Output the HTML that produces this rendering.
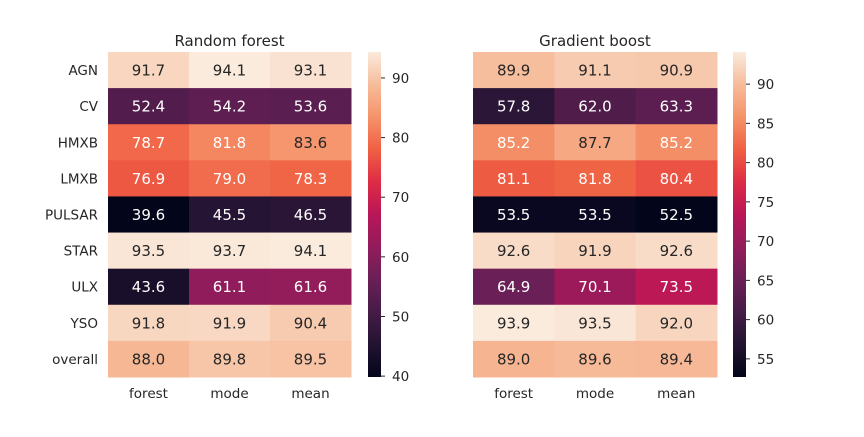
<!DOCTYPE html>
<html><head><meta charset="utf-8"><style>
body{margin:0;background:#fff;}
svg text{font-family:"DejaVu Sans","Liberation Sans",sans-serif;}
</style></head><body>
<svg id="chart" width="864" height="432" viewBox="0 0 864 432" xmlns="http://www.w3.org/2000/svg">
<defs>
<linearGradient id="rocket" x1="0" y1="1" x2="0" y2="0">
<stop offset="0" stop-color="#03051A"/><stop offset="0.1" stop-color="#221331"/><stop offset="0.2" stop-color="#451C47"/><stop offset="0.3" stop-color="#6A1F56"/><stop offset="0.4" stop-color="#921C5B"/><stop offset="0.5" stop-color="#B91657"/><stop offset="0.6" stop-color="#DD2C45"/><stop offset="0.7" stop-color="#F06043"/><stop offset="0.8" stop-color="#F5936A"/><stop offset="0.9" stop-color="#F6BC9A"/><stop offset="1" stop-color="#FAEBDD"/>
</linearGradient>
</defs>
</svg>
<script>
const rows = ["AGN","CV","HMXB","LMXB","PULSAR","STAR","ULX","YSO","overall"];
const cols = ["forest","mode","mean"];
const rfValues = [[91.7,94.1,93.1],[52.4,54.2,53.6],[78.7,81.8,83.6],[76.9,79.0,78.3],[39.6,45.5,46.5],[93.5,93.7,94.1],[43.6,61.1,61.6],[91.8,91.9,90.4],[88.0,89.8,89.5]];
const gbValues = [[89.9,91.1,90.9],[57.8,62.0,63.3],[85.2,87.7,85.2],[81.1,81.8,80.4],[53.5,53.5,52.5],[92.6,91.9,92.6],[64.9,70.1,73.5],[93.9,93.5,92.0],[89.0,89.6,89.4]];
const rfTicks = [40,50,60,70,80,90];
const gbTicks = [55,60,65,70,75,80,85,90];

const stops=[[0x03,0x05,0x1A],[0x22,0x13,0x31],[0x45,0x1C,0x47],[0x6A,0x1F,0x56],[0x92,0x1C,0x5B],[0xB9,0x16,0x57],[0xDD,0x2C,0x45],[0xF0,0x60,0x43],[0xF5,0x93,0x6A],[0xF6,0xBC,0x9A],[0xFA,0xEB,0xDD]];
function cmap(t){t=Math.max(0,Math.min(1,t));const p=t*10,i=Math.min(9,Math.floor(p)),f=p-i;
return stops[i].map((c,k)=>Math.round(c+(stops[i+1][k]-c)*f));}
function lum(c){const l=c.map(v=>{v/=255;return v<=0.03928?v/12.92:Math.pow((v+0.055)/1.055,2.4)});return 0.2126*l[0]+0.7152*l[1]+0.0722*l[2];}
const svg=document.getElementById('chart');const NS="http://www.w3.org/2000/svg";
function el(tag,attrs,txt){const e=document.createElementNS(NS,tag);for(const k in attrs)e.setAttribute(k,attrs[k]);if(txt!==undefined)e.textContent=txt;svg.appendChild(e);return e;}
const gTop=52,gBottom=377,cellH=(gBottom-gTop)/rows.length;
function heat(values,x0,x1,cbx,title,ticks,showRows,prefix){
 const all=values.flat();const vmin=Math.min(...all),vmax=Math.max(...all);
 const cw=(x1-x0)/cols.length;
 const t=el('text',{x:(x0+x1)/2,y:46,'text-anchor':'middle','font-size':15,fill:'#262626'},title);
 
 
 values.forEach((r,i)=>r.forEach((v,j)=>{
  const c=cmap((v-vmin)/(vmax-vmin));
  const rc=el('rect',{x:x0+j*cw,y:gTop+i*cellH,width:cw+0.5,height:cellH+0.5,fill:`rgb(${c})`});
  
  
  const tx=el('text',{x:x0+(j+0.5)*cw,y:gTop+(i+0.5)*cellH+5.5,'text-anchor':'middle','font-size':15,fill:lum(c)>0.408?'#262626':'#ffffff'},v.toFixed(1));
  
  
 }));
 if(showRows)rows.forEach((r,i)=>{const tx=el('text',{x:98,y:gTop+(i+0.5)*cellH+5,'text-anchor':'end','font-size':13.5,fill:'#262626'},r);
  
  });
 cols.forEach((c,j)=>{const tx=el('text',{x:x0+(j+0.5)*cw,y:398,'text-anchor':'middle','font-size':13.5,fill:'#262626'},c);
  
  });
 const cb=el('rect',{x:cbx,y:gTop,width:13,height:gBottom-gTop,fill:'url(#rocket)'});
 
 
 ticks.forEach(v=>{const y=gBottom-(v-vmin)/(vmax-vmin)*(gBottom-gTop)+1.5;
  const tk=el('line',{x1:cbx+13,x2:cbx+17,y1:y,y2:y,stroke:'#262626','stroke-width':1});
  
  
  const tl=el('text',{x:cbx+24,y:y+5,'font-size':13.5,fill:'#262626'},String(v));
  
  });
}
heat(rfValues,108,351,368,'Random forest',rfTicks,true,'rf');
heat(gbValues,473,717,733,'Gradient boost',gbTicks,false,'gb');
</script>
</body></html>
